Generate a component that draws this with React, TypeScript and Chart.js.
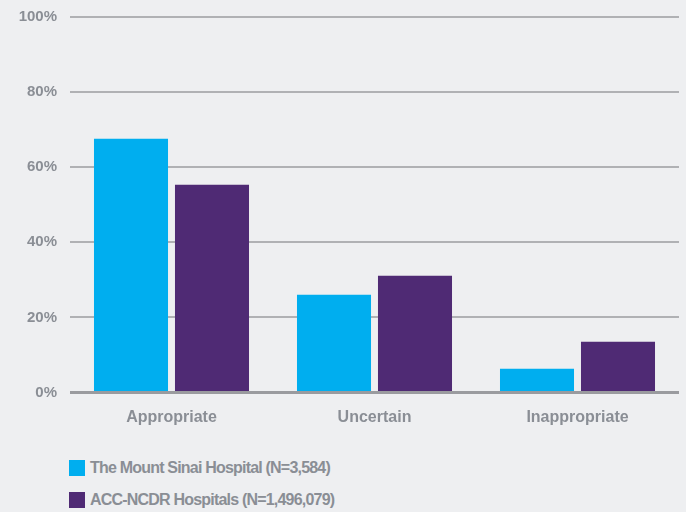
import React, { useEffect, useRef } from "react";
import { Chart, registerables } from "chart.js";

Chart.register(...registerables);

const categories = ["Appropriate", "Uncertain", "Inappropriate"];
const sinaiValues = [67.6, 26.0, 6.3];
const ncdrValues = [55.3, 31.1, 13.5];
const seriesNames = ["The Mount Sinai Hospital (N=3,584)", "ACC-NCDR Hospitals (N=1,496,079)"];
const seriesColors = ["#00aeef", "#4f2a74"];
const yTicks = [0, 20, 40, 60, 80, 100];

const BG = "#eeeff1";
const TEXT = "#8a8e95";
const FONT = "'Liberation Sans', Arial, sans-serif";

export default function App() {
  const ref = useRef<HTMLCanvasElement | null>(null);

  useEffect(() => {
    document.body.style.margin = "0";
    document.body.style.background = BG;
    const canvas = ref.current;
    if (!canvas) return;
    const chart = new Chart(canvas, {
      type: "bar",
      data: {
        labels: categories,
        datasets: [
          { label: seriesNames[0], data: sinaiValues, backgroundColor: seriesColors[0] },
          { label: seriesNames[1], data: ncdrValues, backgroundColor: seriesColors[1] },
        ],
      },
      options: {
        responsive: false,
        animation: false,
        layout: { padding: { top: 17, right: 7, left: 0, bottom: 0 } },
        datasets: { bar: { categoryPercentage: 0.798, barPercentage: 0.914 } },
        plugins: { legend: { display: false }, tooltip: { enabled: false } },
        scales: {
          x: {
            grid: { display: false, drawTicks: false },
            border: { display: false },
            ticks: { color: TEXT, font: { family: FONT, size: 16, weight: "bold" }, padding: 15 },
            afterFit: (s: any) => {
              s.height = 47.5;
              s.paddingLeft = 0;
              s.paddingRight = 0;
            },
          },
          y: {
            min: 0,
            max: 100,
            afterBuildTicks: (s: any) => { s.ticks = yTicks.map((v) => ({ value: v })); },
            grid: {
              drawTicks: false,
              color: (c: any) => (c.tick && c.tick.value === 0 ? "#9a9b9f" : "#b0b1b4"),
              lineWidth: (c: any) => (c.tick && c.tick.value === 0 ? 3 : 2),
            },
            border: { display: false },
            ticks: {
              color: TEXT,
              font: { family: FONT, size: 15, weight: "bold" },
              padding: 13,
              callback: (v: any) => v + "%",
            },
            afterFit: (s: any) => {
              s.width = 70;
              s.paddingTop = 0;
              s.paddingBottom = 0;
            },
          },
        },
      },
    });
    return () => chart.destroy();
  }, []);

  const legendText: React.CSSProperties = {
    position: "absolute",
    left: 90,
    color: TEXT,
    fontFamily: FONT,
    fontWeight: "bold",
    fontSize: 16,
    letterSpacing: -0.8,
    lineHeight: "16px",
    whiteSpace: "nowrap",
  };

  return (
    <div style={{ position: "fixed", left: 0, top: 0, width: 686, height: 512, background: BG, overflow: "hidden" }}>
      <canvas ref={ref} width={686} height={440} style={{ display: "block" }} />
      {seriesNames.map((name, i) => (
        <React.Fragment key={name}>
          <div style={{ position: "absolute", left: 69, top: 460 + i * 32, width: 16, height: 16, background: seriesColors[i] }} />
          <div style={{ ...legendText, top: 460 + i * 32 }}>{name}</div>
        </React.Fragment>
      ))}
    </div>
  );
}
